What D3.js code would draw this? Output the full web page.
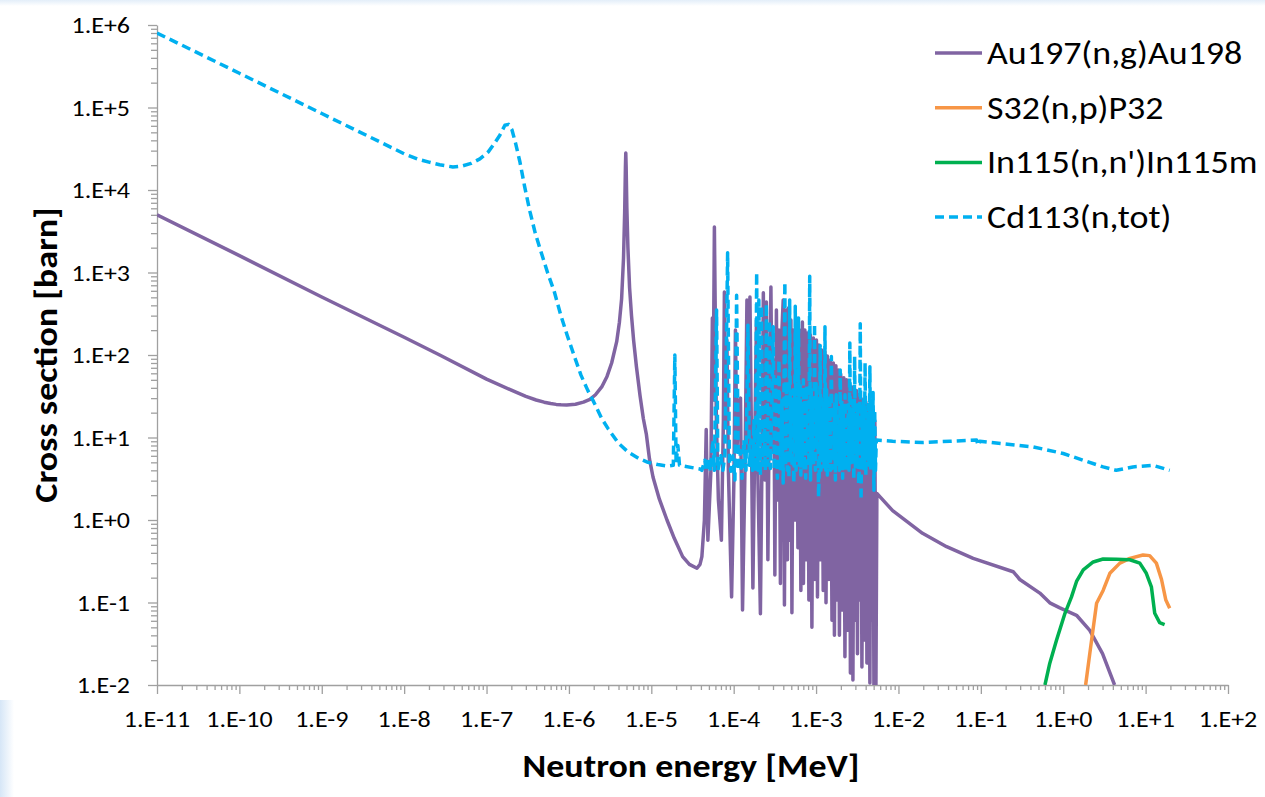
<!DOCTYPE html>
<html>
<head>
<meta charset="utf-8">
<script src="https://cdn.jsdelivr.net/npm/d3@7"></script>
<style>
  body { margin: 0; background: #fff; }
  svg { display: block; }
  text { font-family: Carlito, Calibri, Lato, sans-serif; fill: #000; }
</style>
</head>
<body>
<svg id="chart" width="1265" height="797"></svg>
<script>
// energies in MeV, cross sections in barn
var au197 = [
  [1e-11, 5000], [1e-10, 1600], [1e-9, 505], [1e-8, 164], [2.7e-8, 100], [1e-7, 51], [2e-7, 37.5],
  [3e-7, 31.5], [4e-7, 28.5], [5e-7, 26.8], [6e-7, 25.8], [7e-7, 25.2], [8e-7, 24.9], [9.4e-7, 24.8],
  [1.2e-6, 25.3], [1.5e-6, 26.8], [1.8e-6, 29], [2.1e-6, 33], [2.5e-6, 41], [2.9e-6, 55], [3.3e-6, 80],
  [3.8e-6, 145], [4.1e-6, 250], [4.36e-6, 480], [4.6e-6, 1500], [4.75e-6, 5400], [4.85e-6, 19000],
  [4.9e-6, 28000], [4.95e-6, 19000], [5.05e-6, 6000], [5.2e-6, 2000], [5.45e-6, 650], [5.75e-6, 300],
  [6.1e-6, 150], [6.6e-6, 72], [7.3e-6, 32], [8.0e-6, 17], [8.7e-6, 11], [9.5e-6, 5.5], [1.05e-5, 3.3],
  [1.25e-5, 1.8], [1.55e-5, 1.0], [1.9e-5, 0.6], [2.4e-5, 0.36], [2.9e-5, 0.29], [3.58e-5, 0.26],
  [3.9e-5, 0.29], [4.11e-5, 0.36],
  [4.41e-5, 1.0], [4.64e-5, 12.5], [4.86e-5, 0.57], [5.29e-5, 4.0], [5.51e-5, 281], [5.63e-5, 28.5],
  [5.83e-5, 3560], [6.16e-5, 16.3], [6.52e-5, 1.75], [7.09e-5, 0.57], [7.5e-5, 16.3], [7.71e-5, 580],
  [8.04e-5, 16.3], [8.27e-5, 152], [8.62e-5, 4.0], [9.43e-5, 0.117], [1.006e-4, 3.05], [1.05e-4, 201],
  [1.094e-4, 7.0], [1.17e-4, 28.5], [1.21e-4, 30], [1.28e-4, 0.081], [1.37e-4, 4.0], [1.448e-4, 464],
  [1.51e-4, 7.0], [1.575e-4, 505], [1.64e-4, 12.3], [1.71e-4, 0.15], [1.81e-4, 12.3], [1.89e-4, 265],
  [1.97e-4, 3.05], [2.11e-4, 0.073], [2.23e-4, 16.3], [2.29e-4, 570], [2.39e-4, 3.05], [2.49e-4, 439],
  [2.6e-4, 0.33], [2.71e-4, 28.5], [2.83e-4, 667], [2.95e-4, 7.0], [3.08e-4, 87], [3.16e-4, 0.215],
  [3.3e-4, 351], [3.44e-4, 1.75], [3.54e-4, 201], [3.69e-4, 0.17], [3.85e-4, 201], [3.99e-4, 464],
  [4.13e-4, 0.093], [4.3e-4, 351], [4.49e-4, 0.33], [4.61e-4, 371], [4.81e-4, 0.57], [4.95e-4, 265],
  [5.09e-4, 0.075], [5.31e-4, 201], [5.53e-4, 1.0], [5.77e-4, 281], [6.02e-4, 0.46], [6.27e-4, 201],
  [6.54e-4, 0.14], [6.82e-4, 251], [7.02e-4, 0.17], [7.31e-4, 201], [7.62e-4, 0.33], [7.84e-4, 185],
  [8.18e-4, 0.107], [8.53e-4, 175], [8.9e-4, 0.05], [9.28e-4, 161], [9.67e-4, 0.19], [1.01e-3, 152],
  [1.04e-3, 0.117], [1.08e-3, 132], [1.13e-3, 0.33], [1.17e-3, 115], [1.22e-3, 0.14], [1.28e-3, 110],
  [1.32e-3, 0.099], [1.37e-3, 97], [1.43e-3, 0.19], [1.49e-3, 87], [1.56e-3, 0.061], [1.62e-3, 80],
  [1.67e-3, 0.04], [1.74e-3, 74], [1.81e-3, 0.107], [1.86e-3, 66], [1.92e-3, 0.04], [1.99e-3, 59],
  [2.08e-3, 0.081], [2.17e-3, 53], [2.24e-3, 0.022], [2.34e-3, 50], [2.44e-3, 0.046], [2.54e-3, 44],
  [2.61e-3, 0.014], [2.72e-3, 41], [2.8e-3, 0.0115], [2.91e-3, 38], [3.0e-3, 0.061], [3.09e-3, 37],
  [3.18e-3, 0.024], [3.26e-3, 33], [3.4e-3, 0.107], [3.5e-3, 30], [3.6e-3, 0.0165], [3.75e-3, 28.5],
  [3.86e-3, 0.035], [4.02e-3, 27], [4.14e-3, 0.0185], [4.31e-3, 25], [4.5e-3, 0.0106], [4.63e-3, 23],
  [4.76e-3, 0.061], [4.9e-3, 21.5], [5.04e-3, 0.008], [5.17e-3, 16], [5.32e-3, 0.007], [5.47e-3, 2.1],
  [8.5e-3, 1.3], [0.0196, 0.69], [0.0384, 0.475], [0.0807, 0.343], [0.247, 0.236], [0.297, 0.19],
  [0.52, 0.13], [0.687, 0.099], [0.91, 0.086], [1.45, 0.07], [2.1, 0.046], [3.0, 0.024], [4.2, 0.01]
];

var s32 = [
  [1.87, 0.01], [2.1, 0.024], [2.54, 0.098], [3.05, 0.14], [3.68, 0.226], [4.87, 0.30], [6.43, 0.343],
  [9.3, 0.377], [11.2, 0.37], [13.5, 0.30], [15.6, 0.19], [17.6, 0.107], [19.6, 0.085]
];

var in115 = [
  [0.6, 0.01], [0.687, 0.0184], [0.83, 0.035], [1.05, 0.074], [1.26, 0.117], [1.45, 0.18], [1.75, 0.248],
  [2.31, 0.31], [3.05, 0.337], [4.43, 0.335], [6.43, 0.33], [8.5, 0.30], [10.2, 0.226], [11.75, 0.155],
  [12.9, 0.074], [14.8, 0.057], [17, 0.054]
];

var cd113 = [
  [1e-11, 8.0e5], [1e-10, 2.6e5], [1e-9, 8.45e4], [1e-8, 2.75e4], [1.5e-8, 2.35e4], [2e-8, 2.18e4],
  [2.7e-8, 2.02e4], [3.9e-8, 1.9e4], [5e-8, 1.95e4], [6.5e-8, 2.1e4], [8.3e-8, 2.38e4], [1.05e-7, 2.9e4],
  [1.23e-7, 3.6e4], [1.45e-7, 4.6e4], [1.67e-7, 6.1e4], [1.85e-7, 6.25e4], [2.03e-7, 5.4e4],
  [2.25e-7, 3.7e4], [2.54e-7, 2.2e4], [2.9e-7, 1.1e4], [3.36e-7, 5500], [3.9e-7, 3000], [4.57e-7, 1800],
  [5.5e-7, 1000], [6.6e-7, 600], [8e-7, 300], [9.5e-7, 175], [1.15e-6, 100], [1.4e-6, 57], [1.7e-6, 37],
  [2.0e-6, 27], [2.5e-6, 17], [3.0e-6, 12.7], [4.0e-6, 8.5], [5.2e-6, 6.7], [7e-6, 5.6], [9.1e-6, 5.0],
  [1.2e-5, 4.7], [1.59e-5, 4.5], [1.85e-5, 4.6],
  [1.93e-5, 100], [2.0e-5, 4.8], [2.1e-5, 8], [2.2e-5, 4.6], [3.9e-5, 4.15], [4.11e-5, 4.0],
  [4.47e-5, 5.3], [4.67e-5, 3.9], [5.0e-5, 5.6], [5.22e-5, 3.9], [5.59e-5, 9.3], [5.83e-5, 4.0],
  [6.2e-5, 350], [6.43e-5, 4.0], [6.99e-5, 6.0], [7.39e-5, 4.0], [7.82e-5, 6.0], [8.44e-5, 1740],
  [8.86e-5, 5.3], [9.25e-5, 3.9], [9.78e-5, 6.0], [1.035e-4, 3.05], [1.085e-4, 530], [1.14e-4, 4.0],
  [1.19e-4, 7.0], [1.26e-4, 3.2], [1.33e-4, 9.3], [1.41e-4, 4.0], [1.49e-4, 230], [1.55e-4, 4.6],
  [1.62e-4, 9.3], [1.69e-4, 4.0], [1.76e-4, 16], [1.84e-4, 3.9], [1.9e-4, 1000], [1.97e-4, 4.0],
  [2.02e-4, 464], [2.11e-4, 3.5], [2.17e-4, 400], [2.26e-4, 4.6], [2.35e-4, 16], [2.42e-4, 4.0],
  [2.49e-4, 420], [2.6e-4, 4.6], [2.71e-4, 265], [2.79e-4, 4.2], [2.91e-4, 28], [3.02e-4, 220],
  [3.11e-4, 4.0], [3.25e-4, 50], [3.39e-4, 3.2], [3.54e-4, 87], [3.69e-4, 4.0], [3.85e-4, 28],
  [3.99e-4, 2.8],
  [4.18e-4, 760], [4.27e-4, 4.6], [4.37e-4, 40], [4.47e-4, 4.0], [4.57e-4, 50], [4.68e-4, 3.2],
  [4.78e-4, 464], [4.89e-4, 5.3], [5.00e-4, 22], [5.11e-4, 4.5], [5.23e-4, 38], [5.35e-4, 2.8],
  [5.47e-4, 5.0], [5.59e-4, 390], [5.72e-4, 4.0], [5.85e-4, 28], [5.98e-4, 6.5], [6.12e-4, 280],
  [6.26e-4, 4.6], [6.40e-4, 45], [6.54e-4, 3.5], [6.69e-4, 26], [6.84e-4, 5.5], [7.00e-4, 50],
  [7.16e-4, 4.0], [7.32e-4, 35], [7.48e-4, 3.2], [7.65e-4, 42], [7.83e-4, 6.5], [8.00e-4, 22],
  [8.19e-4, 4.5], [8.37e-4, 900], [8.56e-4, 3.05], [8.76e-4, 38], [8.96e-4, 5.0], [9.16e-4, 28],
  [9.37e-4, 4.6], [9.58e-4, 240], [9.80e-4, 4.0], [1.002e-3, 45], [1.025e-3, 7.5], [1.048e-3, 30],
  [1.072e-3, 1.9], [1.096e-3, 4.6], [1.121e-3, 130], [1.146e-3, 4.0], [1.172e-3, 33], [1.199e-3, 5.5],
  [1.226e-3, 24], [1.254e-3, 4.0], [1.282e-3, 220], [1.311e-3, 4.0], [1.341e-3, 38], [1.371e-3, 3.5],
  [1.402e-3, 28], [1.434e-3, 6.0], [1.467e-3, 33], [1.500e-3, 4.0], [1.534e-3, 96], [1.569e-3, 4.2],
  [1.604e-3, 20], [1.641e-3, 5.5], [1.678e-3, 28], [1.716e-3, 3.05], [1.755e-3, 33], [1.795e-3, 4.5],
  [1.835e-3, 18], [1.877e-3, 6.5], [1.919e-3, 4.0], [1.963e-3, 66], [2.007e-3, 4.6], [2.053e-3, 28],
  [2.099e-3, 3.2], [2.147e-3, 22], [2.196e-3, 5.5], [2.245e-3, 33], [2.296e-3, 4.0], [2.348e-3, 16],
  [2.402e-3, 6.0], [2.456e-3, 25], [2.512e-3, 4.0], [2.569e-3, 140], [2.627e-3, 4.6], [2.686e-3, 20],
  [2.747e-3, 5.5], [2.810e-3, 28], [2.873e-3, 3.05], [2.938e-3, 96], [3.005e-3, 4.0], [3.073e-3, 18],
  [3.143e-3, 5.0], [3.214e-3, 25], [3.287e-3, 2.7], [3.361e-3, 4.5], [3.438e-3, 240], [3.516e-3, 1.75],
  [3.595e-3, 20], [3.677e-3, 5.0], [3.760e-3, 28], [3.845e-3, 4.0], [3.933e-3, 80], [4.022e-3, 3.5],
  [4.113e-3, 16], [4.206e-3, 5.5], [4.302e-3, 25], [4.399e-3, 4.6], [4.499e-3, 72], [4.601e-3, 4.0],
  [4.705e-3, 20], [4.812e-3, 5.5], [4.921e-3, 35], [5.033e-3, 2.3], [5.147e-3, 21.5], [5.263e-3, 4.0],
  [5.383e-3, 9.3],
  [8.5e-3, 9.0], [0.0196, 8.7], [0.0423, 9.0], [0.0887, 9.3], [0.093, 8.0], [0.097, 9.0], [0.43, 7.7],
  [1.0, 6.4], [1.74, 5.3], [3.05, 4.4], [4.4, 4.0], [7.0, 4.4], [12.3, 4.6], [19.6, 4.0]
];

var seriesNames = ["Au197(n,g)Au198", "S32(n,p)P32", "In115(n,n')In115m", "Cd113(n,tot)"];
var seriesColors = ["#8064a2", "#f79646", "#00b050", "#00b0f0"];
var seriesData = [au197, s32, in115, cd113];

var xTicks = [1e-11, 1e-10, 1e-9, 1e-8, 1e-7, 1e-6, 1e-5, 1e-4, 1e-3, 1e-2, 1e-1, 1e0, 1e1, 1e2];
var yTicks = [1e-2, 1e-1, 1e0, 1e1, 1e2, 1e3, 1e4, 1e5, 1e6];

var svg = d3.select("#chart");
var plotLeft = 157, plotRight = 1228, plotTop = 25, plotBottom = 685;
var stretch = 1.11; // Calibri-like width from Lato

var x = d3.scaleLog().domain([1e-11, 1e2]).range([plotLeft, plotRight]);
var y = d3.scaleLog().domain([1e-2, 1e6]).range([plotBottom, plotTop]);

function sci(d) {
  var e = Math.round(Math.log10(d));
  return "1.E" + (e < 0 ? "-" : "+") + Math.abs(e);
}

function minors(ticks) {
  var out = [];
  for (var i = 0; i < ticks.length - 1; i++) {
    for (var k = 2; k < 10; k++) out.push(ticks[i] * k);
  }
  return out;
}

var defs = svg.append("defs");

defs.append("clipPath")
    .attr("id", "plot-clip")
  .append("rect")
    .attr("x", plotLeft)
    .attr("y", plotTop - 5)
    .attr("width", plotRight - plotLeft + 5)
    .attr("height", plotBottom - plotTop + 5);

// faint slide background showing at the edges
var edgeLeft = defs.append("linearGradient").attr("id", "edge-left").attr("x1", 0).attr("x2", 1).attr("y1", 0).attr("y2", 0);
edgeLeft.append("stop").attr("offset", 0).attr("stop-color", "#d6e6f7");
edgeLeft.append("stop").attr("offset", 1).attr("stop-color", "#ffffff");
var edgeTop = defs.append("linearGradient").attr("id", "edge-top").attr("x1", 0).attr("x2", 0).attr("y1", 0).attr("y2", 1);
edgeTop.append("stop").attr("offset", 0).attr("stop-color", "#e3eef9");
edgeTop.append("stop").attr("offset", 1).attr("stop-color", "#ffffff");

svg.append("rect").attr("x", 0).attr("y", 700).attr("width", 14).attr("height", 97).attr("fill", "url(#edge-left)");
svg.append("rect").attr("x", 0).attr("y", 0).attr("width", 1265).attr("height", 6).attr("fill", "url(#edge-top)");

// ticks: minor then major
svg.append("g")
    .attr("class", "axis")
    .attr("transform", "translate(0," + plotBottom + ")")
    .call(d3.axisBottom(x).tickValues(minors(xTicks)).tickSize(5).tickFormat(""))
    .call(function(g){ g.select(".domain").remove(); });

svg.append("g")
    .attr("class", "axis")
    .attr("transform", "translate(" + plotLeft + ",0)")
    .call(d3.axisLeft(y).tickValues(minors(yTicks)).tickSize(6).tickFormat(""))
    .call(function(g){ g.select(".domain").remove(); });

svg.append("g")
    .attr("class", "axis")
    .attr("transform", "translate(0," + plotBottom + ")")
    .call(d3.axisBottom(x).tickValues(xTicks).tickSizeInner(9).tickSizeOuter(0).tickFormat(""));

svg.append("g")
    .attr("class", "axis")
    .attr("transform", "translate(" + plotLeft + ",0)")
    .call(d3.axisLeft(y).tickValues(yTicks).tickSizeInner(9).tickSizeOuter(0).tickFormat(""));

svg.selectAll(".axis path, .axis line")
    .attr("stroke", "#a0a0a0")
    .attr("stroke-width", 1.3);

// tick labels
svg.append("g").selectAll("text")
    .data(xTicks)
  .enter().append("text")
    .attr("transform", function(d) { return "translate(" + x(d) + ",727) scale(" + stretch + ",1)"; })
    .attr("text-anchor", "middle")
    .style("font-size", "23.4px")
    .text(sci);

svg.append("g").selectAll("text")
    .data(yTicks)
  .enter().append("text")
    .attr("transform", function(d) { return "translate(130," + (y(d) + 8) + ") scale(" + stretch + ",1)"; })
    .attr("text-anchor", "end")
    .style("font-size", "23.4px")
    .text(sci);

var line = d3.line()
    .x(function(d) { return x(d[0]); })
    .y(function(d) { return y(d[1]); });

var plot = svg.append("g").attr("clip-path", "url(#plot-clip)");

plot.selectAll("path.series")
    .data(seriesData)
  .enter().append("path")
    .attr("class", "series")
    .attr("d", line)
    .attr("fill", "none")
    .attr("stroke", function(d, i) { return seriesColors[i]; })
    .attr("stroke-width", 3.5)
    .attr("stroke-linejoin", "round")
    .attr("stroke-dasharray", function(d, i) { return i == 3 ? "9,5" : null; });

// legend
var legend = svg.append("g")
    .selectAll("g")
    .data(seriesNames)
  .enter().append("g")
    .attr("transform", function(d, i) { return "translate(935," + (53 + i * 54.7) + ")"; });

legend.append("line")
    .attr("x1", 0).attr("x2", 47)
    .attr("stroke", function(d, i) { return seriesColors[i]; })
    .attr("stroke-width", 3.5)
    .attr("stroke-dasharray", function(d, i) { return i == 3 ? "9,5" : null; });

legend.append("text")
    .attr("transform", "translate(52,11) scale(" + stretch + ",1)")
    .style("font-size", "32.4px")
    .text(function(d) { return d; });

// axis titles
svg.append("text")
    .attr("transform", "translate(691,777) scale(" + stretch + ",1)")
    .attr("text-anchor", "middle")
    .style("font-weight", "bold")
    .style("font-size", "32.4px")
    .text("Neutron energy [MeV]");

svg.append("text")
    .attr("transform", "translate(57,355) rotate(-90) scale(" + stretch + ",1)")
    .attr("text-anchor", "middle")
    .style("font-weight", "bold")
    .style("font-size", "32.4px")
    .text("Cross section [barn]");
</script>
</body>
</html>
